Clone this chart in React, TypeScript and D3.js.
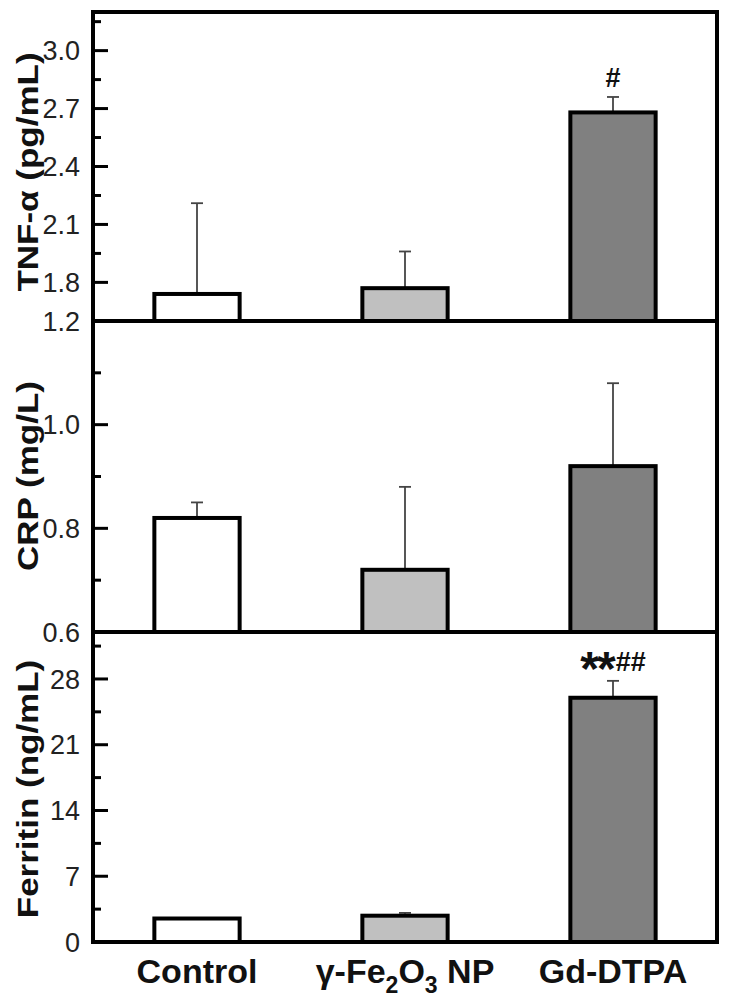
import * as d3 from "d3";

const groups = ["Control", "γ-Fe2O3 NP", "Gd-DTPA"];
const barFills = ["#ffffff", "#c0c0c0", "#808080"];

const tnfMeans = [1.74, 1.77, 2.68];
const tnfErrors = [0.47, 0.19, 0.08];
const tnfTicks = [1.8, 2.1, 2.4, 2.7, 3.0];
const tnfMinor = [1.95, 2.25, 2.55, 2.85, 3.15];
const tnfMarks = ["", "", "#"];

const crpMeans = [0.82, 0.72, 0.92];
const crpErrors = [0.03, 0.16, 0.16];
const crpTicks = [0.6, 0.8, 1.0, 1.2];
const crpMinor = [0.7, 0.9, 1.1];
const crpMarks = ["", "", ""];

const ferritinMeans = [2.5, 2.8, 26.0];
const ferritinErrors = [0, 0.3, 1.8];
const ferritinTicks = [0, 7, 14, 21, 28];
const ferritinMinor = [3.5, 10.5, 17.5, 24.5, 31.5];
const ferritinMarks = ["", "", "**##"];

const W = 735;
const H = 1006;
const left = 93;
const right = 717;

const panels = [
  { label: "TNF-α (pg/mL)", domain: [1.6, 3.2], top: 12, bottom: 321, labelY: 172, means: tnfMeans, errors: tnfErrors, ticks: tnfTicks, minor: tnfMinor, marks: tnfMarks, fmt: d3.format(".1f") },
  { label: "CRP (mg/L)", domain: [0.6, 1.2], top: 321, bottom: 632, labelY: 476, means: crpMeans, errors: crpErrors, ticks: crpTicks, minor: crpMinor, marks: crpMarks, fmt: d3.format(".1f") },
  { label: "Ferritin (ng/mL)", domain: [0, 33], top: 632, bottom: 942, labelY: 789, means: ferritinMeans, errors: ferritinErrors, ticks: ferritinTicks, minor: ferritinMinor, marks: ferritinMarks, fmt: d3.format("d") },
];

const font = "Arial, 'Liberation Sans', sans-serif";

function Mark({ x, y, text }: { x: number; y: number; text: string }) {
  if (!text) return null;
  const stars = text.replace(/#/g, "");
  const hashes = text.replace(/\*/g, "");
  return (
    <text x={x} y={y} textAnchor="middle" fontFamily={font} fontWeight="bold" fill="#111">
      {stars && <tspan fontSize={48} dy={14} letterSpacing={-2}>{stars}</tspan>}
      {hashes && <tspan fontSize={27} dy={stars ? -14 : 0} dx={stars ? 2 : 0}>{hashes}</tspan>}
    </text>
  );
}

function Panel({ p }: { p: (typeof panels)[number] }) {
  const x = d3.scaleBand().domain(groups).range([left, right]).paddingInner(0.59).paddingOuter(0.295);
  const y = d3.scaleLinear().domain(p.domain).range([p.bottom, p.top]);
  return (
    <g>
      {groups.map((g, i) => {
        const bx = x(g)!;
        const cx = bx + x.bandwidth() / 2;
        const yTop = y(p.means[i]);
        const yErr = y(p.means[i] + p.errors[i]);
        return (
          <g key={g}>
            {p.errors[i] > 0 && (
              <g stroke="#444" strokeWidth={1.8}>
                <line x1={cx} x2={cx} y1={yTop} y2={yErr} />
                <line x1={cx - 6} x2={cx + 6} y1={yErr} y2={yErr} />
              </g>
            )}
            <rect x={bx} y={yTop} width={x.bandwidth()} height={p.bottom - yTop} fill={barFills[i]} stroke="#000" strokeWidth={4} />
            <Mark x={cx} y={yErr - 10} text={p.marks[i]} />
          </g>
        );
      })}
      {p.ticks.map((t) => (
        <g key={t}>
          <line x1={left} x2={left + 15} y1={y(t)} y2={y(t)} stroke="#000" strokeWidth={3} />
          <text x={80} y={y(t)} dy="0.36em" textAnchor="end" fontFamily={font} fontSize={27} fill="#222">
            {p.fmt(t)}
          </text>
        </g>
      ))}
      {p.minor.map((t) => (
        <line key={t} x1={left} x2={left + 8} y1={y(t)} y2={y(t)} stroke="#000" strokeWidth={3} />
      ))}
      <rect x={left} y={p.top} width={right - left} height={p.bottom - p.top} fill="none" stroke="#000" strokeWidth={4} />
      <text transform={`translate(38,${p.labelY}) scale(0.86,1) rotate(-90)`} textAnchor="middle" fontFamily={font} fontWeight="bold" fontSize={35} fill="#111">
        {p.label}
      </text>
    </g>
  );
}

export default function App() {
  const x = d3.scaleBand().domain(groups).range([left, right]).paddingInner(0.59).paddingOuter(0.295);
  return (
    <div style={{ position: "absolute", left: 0, top: 0 }}>
      <svg width={W} height={H} style={{ display: "block", background: "#fff" }}>
        {panels.map((p) => (
          <Panel key={p.label} p={p} />
        ))}
        {groups.map((g) => {
          const cx = x(g)! + x.bandwidth() / 2;
          const sub = g.match(/^(γ-Fe)(2)(O)(3)( NP)$/);
          return (
            <text key={g} x={cx} y={983} textAnchor="middle" fontFamily={font} fontWeight="bold" fontSize={34} fill="#111">
              {sub ? (
                <>
                  <tspan>{sub[1]}</tspan>
                  <tspan fontSize={23} dy={10}>{sub[2]}</tspan>
                  <tspan dy={-10}>{sub[3]}</tspan>
                  <tspan fontSize={23} dy={10}>{sub[4]}</tspan>
                  <tspan dy={-10}>{sub[5]}</tspan>
                </>
              ) : (
                g
              )}
            </text>
          );
        })}
      </svg>
    </div>
  );
}
